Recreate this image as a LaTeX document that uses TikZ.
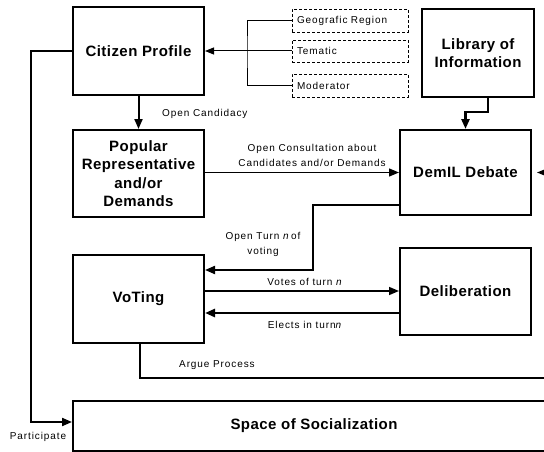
\documentclass[tikz,border=0pt]{standalone}
\usepackage{fontspec}
\setmainfont{Liberation Sans}
\newfontfamily\boxfont[LetterSpace=3]{Liberation Sans}
\newfontfamily\lblfont[LetterSpace=9]{Liberation Sans}
\usetikzlibrary{arrows.meta}

\begin{document}
\begin{tikzpicture}[x=1pt,y=-1pt,
  stagebox/.style={draw, line width=2pt, align=center, inner sep=0pt,
    font={\boxfont\fontsize{15}{18.3}\selectfont\bfseries}},
  optbox/.style={draw, dash pattern=on 3pt off 2pt, line width=0.8pt, minimum width=116pt,
    minimum height=23pt, inner sep=0pt, text width=106pt, align=left,
    font={\lblfont\fontsize{10}{12}\selectfont}},
  lbl/.style={inner sep=0pt, align=center, font={\lblfont\fontsize{10}{15}\selectfont}},
  arr/.style={-{Triangle[length=10pt,width=8pt]}},
  thinarr/.style={-{Triangle[length=9pt,width=7pt]}},
  conn/.style={line width=1pt},
  heavy/.style={line width=2pt},
  heavier/.style={line width=2.6pt}]

% page area
\fill[white] (0,0) rectangle (544,452);
\useasboundingbox (0,0) rectangle (544,452);
\clip (0,0) rectangle (544,452);

% main stages
\node[stagebox, minimum width=131pt, minimum height=88pt] (cit) at (138.5,51) {Citizen Profile};
\node[stagebox, minimum width=131pt, minimum height=87pt] (pop) at (138.5,173.5)
  {Popular\\Representative\\and/or\\Demands};
\node[stagebox, minimum width=131pt, minimum height=88pt] (vot) at (138.5,299) {VoTing};
\node[stagebox, minimum width=112pt, minimum height=88pt] (lib) at (478,53) {Library of\\Information};
\node[stagebox, minimum width=131pt, minimum height=85pt] (dem) at (465.5,172.5) {DemIL Debate};
\node[stagebox, minimum width=131pt, minimum height=87pt] (del) at (465.5,291.5) {Deliberation};
\node[stagebox, minimum width=482pt, minimum height=50pt] (soc) at (314,426) {Space of Socialization};

% profile options
\node[optbox] (geo) at (350,20.5) {Geografic Region};
\node[optbox, minimum height=22pt] (tem) at (350,51) {Tematic};
\node[optbox] (mod) at (350,85.5) {Moderator};

\coordinate (brk) at (247,51);
\draw[conn] (geo.west) -| (brk) |- (mod.west);
\draw[conn, thinarr] (tem.west) -- (cit.east);

% candidacy
\draw[heavy, arr] (cit.south) -- (pop.north);
\node[lbl, anchor=west] (lcand) at (162,114) {Open Candidacy};

% library feeds the debate
\coordinate (libturn) at (488,112);
\draw[heavier, arr] (lib.south -| libturn) -- (libturn) -| (dem.north);

% consultation
\draw[conn, line width=1.3pt, arr] (pop.east |- dem.west) -- (dem.west);
\node[lbl] (lcons) at (312,155.5) {Open Consultation about\\Candidates and/or Demands};

% incoming from the right
\coordinate (rin) at (550,172.5);
\draw[conn, thinarr, shorten >=5pt] (rin) -- (dem.east);

% turn of voting
\coordinate (turn) at (313,270);
\draw[heavy, arr] (dem.west |- 0,205) -| (turn) -- (vot.east |- turn);
\node[lbl] (lturn) at (263,244) {Open Turn \textit{n}\,of\\voting};

% votes and results
\draw[line width=1.6pt, arr] (vot.east |- 0,291) -- (del.west |- 0,291);
\node[lbl] (lvotes) at (305,282) {Votes of turn \textit{n}};
\draw[heavier, arr] (del.west |- 0,313) -- (vot.east |- 0,313);
\node[lbl] (lelect) at (305,325) {Elects in turn\textit{n}};

% argue process
\coordinate (argue) at (140,378);
\coordinate (argend) at (550,378);
\draw[line width=1.6pt] (vot.south -| argue) -- (argue) -- (argend);
\node[lbl, anchor=west] (larg) at (179,365) {Argue Process};

% participate
\coordinate (part) at (31,422);
\draw[heavy, arr] (cit.west) -| (part) -- (soc.west |- part);
\node[lbl] (lpart) at (38,437) {Participate};

\end{tikzpicture}
\end{document}
